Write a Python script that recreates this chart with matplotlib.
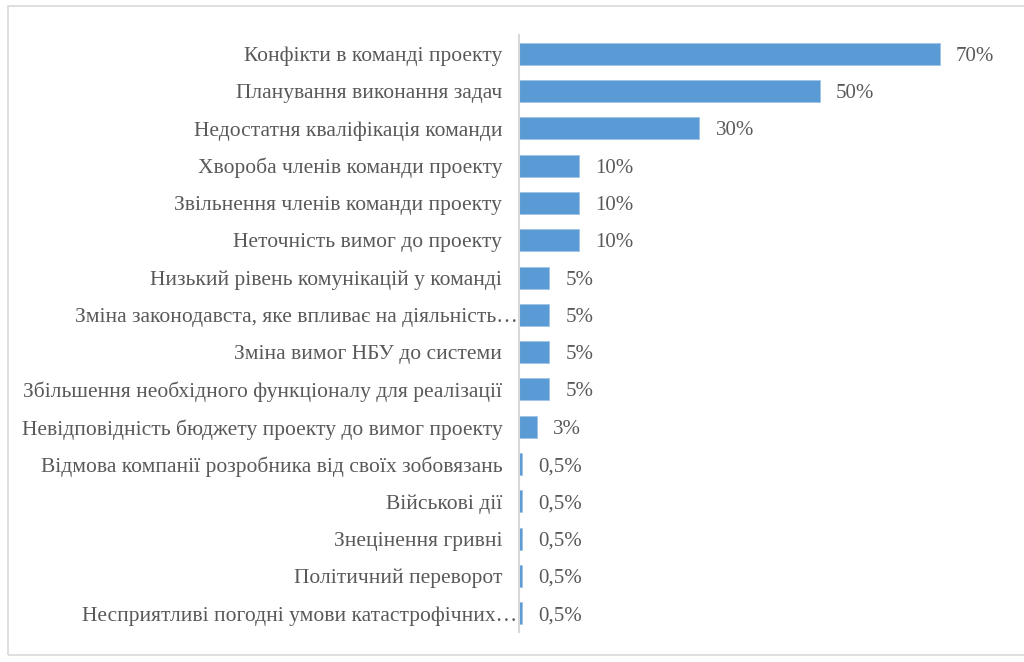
import matplotlib.pyplot as plt
import matplotlib.transforms as mtransforms
from matplotlib.patches import Rectangle

categories = [
    "Конфікти в команді проекту",
    "Планування виконання задач",
    "Недостатня кваліфікація команди",
    "Хвороба членів команди проекту",
    "Звільнення членів команди проекту",
    "Неточність вимог до проекту",
    "Низький рівень комунікацій у команді",
    "Зміна законодавста, яке впливає на діяльність…",
    "Зміна вимог НБУ до системи",
    "Збільшення необхідного функціоналу для реалізації",
    "Невідповідність бюджету проекту до вимог проекту",
    "Відмова компанії розробника від своїх зобовязань",
    "Військові дії",
    "Знецінення гривні",
    "Політичний переворот",
    "Несприятливі погодні умови катастрофічних…",
]
values = [70, 50, 30, 10, 10, 10, 5, 5, 5, 5, 3, 0.5, 0.5, 0.5, 0.5, 0.5]
value_labels = ["70%", "50%", "30%", "10%", "10%", "10%", "5%", "5%", "5%", "5%",
                "3%", "0,5%", "0,5%", "0,5%", "0,5%", "0,5%"]

plt.rcParams["font.family"] = ["Liberation Serif", "DejaVu Serif"]
text_color = "#595959"
bar_color = "#5b9bd5"

fig = plt.figure(figsize=(10.24, 6.62), dpi=100)
ax = fig.add_axes([519 / 1024, 1 - 632 / 662, (1000 - 519) / 1024, (632 - 35) / 662])

y = list(range(len(values)))
ax.barh(y, values, height=0.59, color=bar_color, edgecolor="#9dc3e6", linewidth=0.6)
ax.set_ylim(len(values) - 0.5, -0.5)
ax.set_xlim(0, 80)

ax.set_yticks(y)
ax.set_yticklabels(categories, fontsize=15.5, color=text_color, va="center_baseline")
ax.tick_params(axis="y", length=0, pad=12)
ax.set_xticks([])

# truncated labels run up against the axis line
for lbl in ax.get_yticklabels():
    if lbl.get_text().endswith("…"):
        lbl.set_transform(lbl.get_transform() +
                          mtransforms.ScaledTranslation(15 / 100, 0, fig.dpi_scale_trans))

for yi, v, lab in zip(y, values, value_labels):
    ax.text(v + 2.7, yi, lab, va="center_baseline", ha="left", fontsize=15,
            color=text_color)

for s in ["top", "right", "bottom"]:
    ax.spines[s].set_visible(False)
ax.spines["left"].set_color("#d9d9d9")
ax.spines["left"].set_linewidth(1.5)

# light frame around the chart area
fig.patches.append(Rectangle((8 / 1024, 1 - 655 / 662), 1.1, (655 - 6) / 662,
                             transform=fig.transFigure, fill=False,
                             edgecolor="#d9d9d9", linewidth=1.2))

fig.savefig("out.png", dpi=100)
